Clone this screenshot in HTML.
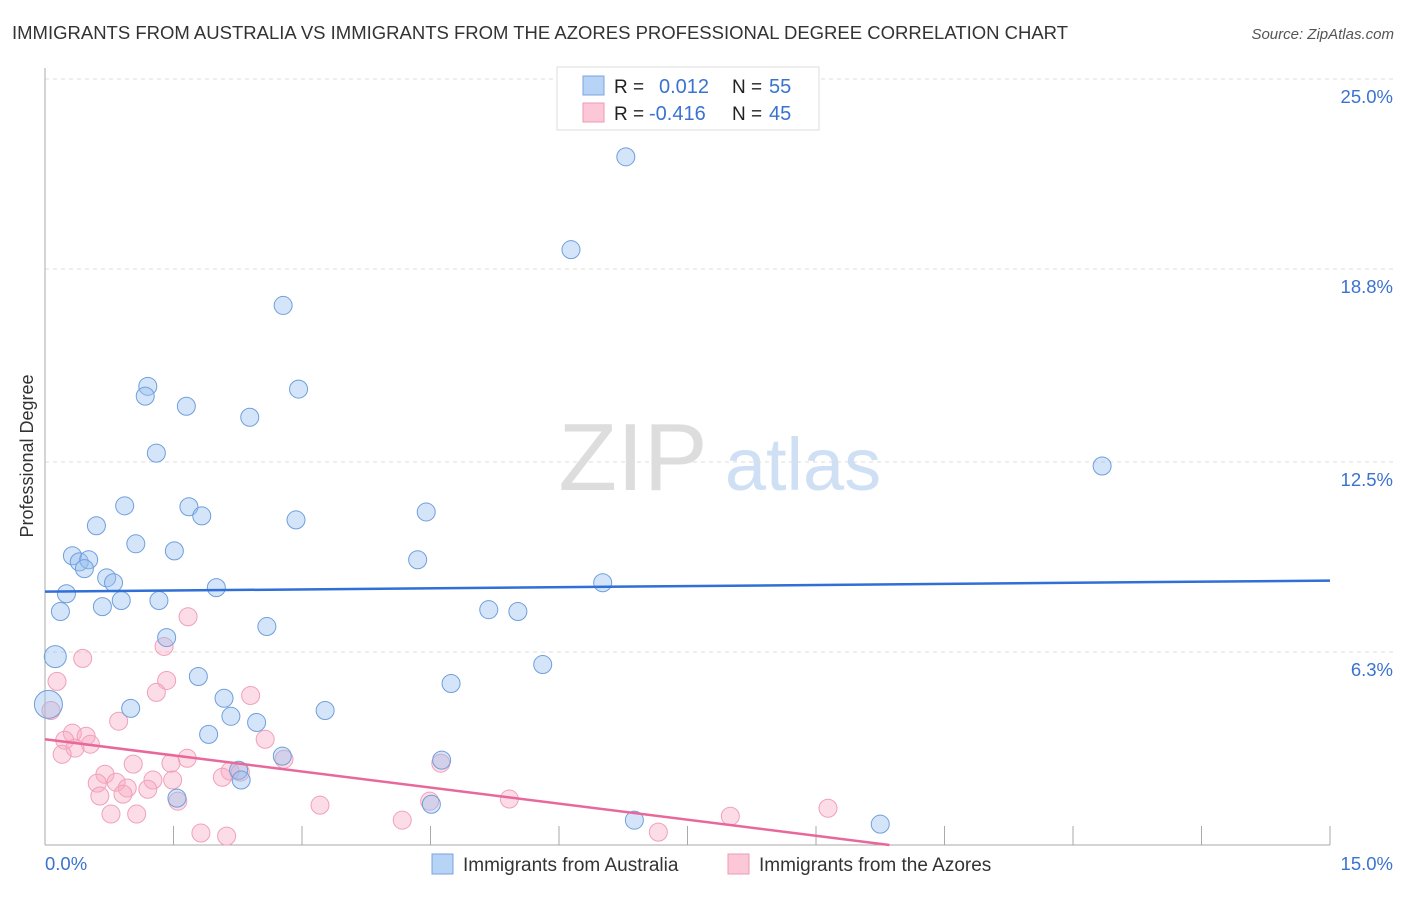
<!DOCTYPE html>
<html><head><meta charset="utf-8"><style>
body{margin:0;background:#fff;font-family:"Liberation Sans",sans-serif}
svg text{font-family:"Liberation Sans",sans-serif}
</style></head><body>
<svg width="1406" height="892" xmlns="http://www.w3.org/2000/svg">
<text x="12" y="39" font-size="18.5" fill="#333">IMMIGRANTS FROM AUSTRALIA VS IMMIGRANTS FROM THE AZORES PROFESSIONAL DEGREE CORRELATION CHART</text>
<text x="1394" y="39" font-size="15" fill="#555" font-style="italic" text-anchor="end">Source: ZipAtlas.com</text>
<text transform="translate(33,456) rotate(-90)" font-size="18" fill="#333" text-anchor="middle">Professional Degree</text>
<g><text x="633" y="490" font-size="96" font-family="Liberation Serif" fill="#ddd" text-anchor="middle">ZIP</text><text x="803" y="490" font-size="74" fill="#cfe0f5" text-anchor="middle">atlas</text></g>
<g id="grid"></g><g id="axes"></g><g id="pts"></g><g id="lines"></g>
<g>
<rect x="557" y="67" width="262" height="63" fill="#fff" stroke="#ddd"/>
<rect x="583" y="76" width="21" height="19" fill="#b7d3f5" stroke="#7aa6e0"/>
<rect x="583" y="103" width="21" height="19" fill="#fcc8d8" stroke="#ee9ab5"/>
<text x="614" y="93" font-size="19" fill="#222">R =</text><text x="659" y="93" font-size="20" fill="#3a73cf">0.012</text>
<text x="732" y="93" font-size="19" fill="#222">N =</text><text x="769" y="93" font-size="20" fill="#3a73cf">55</text>
<text x="614" y="120" font-size="19" fill="#222">R =</text><text x="649" y="120" font-size="20" fill="#3a73cf">-0.416</text>
<text x="732" y="120" font-size="19" fill="#222">N =</text><text x="769" y="120" font-size="20" fill="#3a73cf">45</text>
</g>
<g>
<rect x="432" y="854" width="21" height="20" fill="#b7d3f5" stroke="#7aa6e0"/>
<text x="463" y="871" font-size="19" fill="#333">Immigrants from Australia</text>
<rect x="728" y="854" width="21" height="20" fill="#fcc8d8" stroke="#ee9ab5"/>
<text x="759" y="871" font-size="19" fill="#333">Immigrants from the Azores</text>
</g>
</svg>
<script>
const blueX=[6.78,6.14,2.78,1.20,1.17,2.96,1.65,2.39,1.30,12.34,0.93,1.68,1.83,2.93,4.45,0.60,1.06,1.51,0.32,0.40,0.51,0.46,4.35,0.72,0.80,6.51,2.00,0.25,0.89,1.33,0.67,5.18,5.52,0.18,2.59,1.42,0.12,5.81,1.79,4.74,2.09,0.04,1.00,3.27,2.17,2.47,1.91,2.77,4.63,2.26,2.29,1.54,4.51,6.88,9.75];
const blueY=[22.46,19.43,17.61,14.97,14.65,14.88,14.32,13.96,12.79,12.37,11.07,11.04,10.74,10.61,10.87,10.42,9.83,9.60,9.44,9.24,9.31,9.02,9.31,8.72,8.56,8.56,8.40,8.20,7.98,7.98,7.78,7.68,7.62,7.62,7.13,6.77,6.15,5.89,5.50,5.27,4.79,4.59,4.46,4.39,4.20,4.00,3.61,2.90,2.77,2.44,2.12,1.53,1.33,0.81,0.68];
const pinkX=[0.44,1.67,1.39,0.14,1.42,1.30,2.40,0.07,0.86,0.32,0.48,0.23,0.53,0.35,2.57,0.20,1.66,2.79,4.62,1.47,1.03,2.16,0.70,2.07,1.26,0.61,0.83,1.49,0.96,1.20,0.91,0.64,1.55,4.49,3.21,5.42,9.14,0.77,1.07,4.17,8.00,1.82,2.12,7.16,2.28];
const pinkY=[6.09,7.45,6.48,5.34,5.37,4.98,4.88,4.39,4.04,3.65,3.55,3.42,3.29,3.16,3.45,2.96,2.83,2.80,2.67,2.67,2.64,2.41,2.31,2.21,2.12,2.02,2.05,2.12,1.86,1.82,1.66,1.60,1.43,1.43,1.30,1.50,1.20,1.01,1.01,0.81,0.94,0.39,0.29,0.42,2.38];
const bigIdx=[36,41];
const blueTrend=[8.27,0.024];
const pinkTrend=[3.45,-0.35];
const yTicks=[25.0,18.8,12.5,6.3];
const yTickLabels=["25.0%","18.8%","12.5%","6.3%"];
const NS="http://www.w3.org/2000/svg";
const sx=v=>45+v*(1285/15), sy=v=>845-v*(766/25);
function mk(t,a,p){const e=document.createElementNS(NS,t);for(const k in a)e.setAttribute(k,a[k]);document.getElementById(p).appendChild(e);return e;}
yTicks.forEach((t,i)=>{
 const l=mk('line',{x1:45,x2:1394,y1:sy(t),y2:sy(t),stroke:'#ddd','stroke-dasharray':'4,4'},'grid');
 
 
 const tx=mk('text',{x:1393,y:sy(t)+24,'font-size':18.5,fill:'#3a73cf','text-anchor':'end'},'grid');
 tx.textContent=yTickLabels[i];
 
 
});
mk('line',{x1:45,x2:45,y1:68,y2:845,stroke:'#aaa'},'axes');
mk('line',{x1:45,x2:1330,y1:845,y2:845,stroke:'#aaa'},'axes');
for(let i=1;i<=10;i++){const x=sx(i*1.5);const t=mk('line',{x1:x,x2:x,y1:826,y2:845,stroke:'#aaa'},'axes');}
const x0=mk('text',{x:45,y:870,'font-size':18.5,fill:'#3a73cf'},'axes');x0.textContent='0.0%';


const x1=mk('text',{x:1393,y:870,'font-size':18.5,fill:'#3a73cf','text-anchor':'end'},'axes');x1.textContent='15.0%';


pinkX.forEach((v,i)=>{const c=mk('circle',{cx:sx(v),cy:sy(pinkY[i]),r:9,fill:'rgba(248,170,195,0.4)',stroke:'#f0a0b8','stroke-width':1},'pts');
 
 });
blueX.forEach((v,i)=>{const c=mk('circle',{cx:sx(v),cy:sy(blueY[i]),r:bigIdx.includes(i)?(i==41?14:11):9,fill:'rgba(150,190,240,0.4)',stroke:'#6f9fdc','stroke-width':1},'pts');
 
 });
const bl=mk('line',{x1:sx(0),y1:sy(blueTrend[0]),x2:sx(15),y2:sy(blueTrend[0]+15*blueTrend[1]),stroke:'#2f6fd6','stroke-width':2.5},'lines');


const pe=-pinkTrend[0]/pinkTrend[1];
const pl=mk('line',{x1:sx(0),y1:sy(pinkTrend[0]),x2:sx(pe),y2:sy(0),stroke:'#e8689a','stroke-width':2.5},'lines');


</script>
</body></html>
